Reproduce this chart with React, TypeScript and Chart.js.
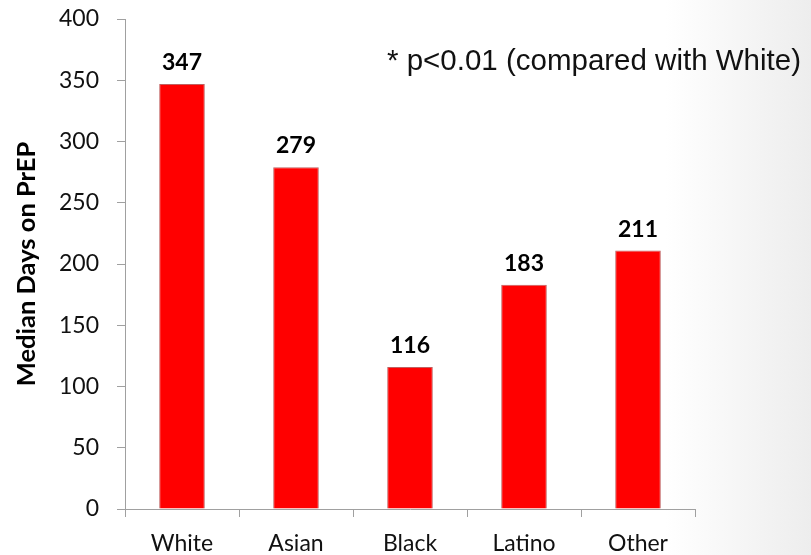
import React, { useEffect, useRef } from "react";
import { Chart, registerables } from "chart.js";

Chart.register(...registerables);

const categories = ["White", "Asian", "Black", "Latino", "Other"];
const medianDays = [347, 279, 116, 183, 211];
const yMin = 0;
const yMax = 400;
const yStep = 50;
const yAxisTitle = "Median Days on PrEP";
const noteText = "* p<0.01 (compared with White)";

const labelFont = "Lato, 'Open Sans', sans-serif";

const valueLabels = {
  id: "valueLabels",
  afterDatasetsDraw(chart: any) {
    const ctx = chart.ctx;
    const meta = chart.getDatasetMeta(0);
    ctx.save();
    ctx.fillStyle = "#000";
    ctx.font = `bold 23px ${labelFont}`;
    ctx.textAlign = "center";
    ctx.textBaseline = "alphabetic";
    meta.data.forEach((bar: any, i: number) => {
      ctx.fillText(String(medianDays[i]), bar.x, bar.y - 14);
    });
    ctx.font = "29.5px 'Liberation Sans', Arial, sans-serif";
    ctx.textAlign = "left";
    ctx.fillStyle = "#111";
    ctx.fillText(noteText, 387, 70);
    ctx.restore();
  },
};

export default function App() {
  const canvasRef = useRef<HTMLCanvasElement | null>(null);

  useEffect(() => {
    if (!canvasRef.current) return;
    const chart = new Chart(canvasRef.current, {
      type: "bar",
      data: {
        labels: categories,
        datasets: [
          {
            data: medianDays,
            backgroundColor: "#ff0000",
            borderColor: "#c06060",
            borderWidth: 1,
            barPercentage: 0.4,
            categoryPercentage: 1,
          },
        ],
      },
      options: {
        responsive: false,
        animation: false,
        devicePixelRatio: 1,
        layout: { padding: { top: 19, right: 116, left: 0, bottom: 0 } },
        plugins: {
          legend: { display: false },
          tooltip: { enabled: false },
        },
        scales: {
          x: {
            grid: {
              offset: true,
              drawOnChartArea: false,
              drawTicks: true,
              tickLength: 8,
              color: "#a0a0a0",
            },
            border: { display: true, color: "#a0a0a0", width: 1 },
            ticks: {
              color: "#111",
              font: { family: labelFont, size: 23 },
              padding: 13,
              maxRotation: 0,
            },
            afterFit: (scale: any) => {
              scale.height = 46;
              scale.paddingLeft = 0;
              scale.paddingRight = 0;
            },
          },
          y: {
            min: yMin,
            max: yMax,
            grid: {
              drawOnChartArea: false,
              drawTicks: true,
              tickLength: 8,
              color: "#a0a0a0",
            },
            border: { display: true, color: "#a0a0a0", width: 1 },
            ticks: {
              stepSize: yStep,
              color: "#111",
              font: { family: labelFont, size: 23 },
              padding: 18,
            },
            title: {
              display: true,
              text: yAxisTitle,
              color: "#000",
              font: { family: labelFont, size: 25.5, weight: "bold" },
              padding: { top: 11, bottom: 0 },
            },
            afterFit: (scale: any) => {
              scale.width = 125;
              scale.paddingTop = 0;
              scale.paddingBottom = 0;
            },
          },
        },
      },
      plugins: [valueLabels],
    });
    return () => chart.destroy();
  }, []);

  return (
    <div
      style={{
        position: "absolute",
        left: 0,
        top: 0,
        width: 811,
        height: 555,
        background:
          "linear-gradient(to right, #ffffff 0%, #ffffff 82%, #ededed 100%)",
      }}
    >
      <canvas
        ref={canvasRef}
        width={811}
        height={555}
        style={{ width: 811, height: 555, display: "block" }}
      />
    </div>
  );
}
